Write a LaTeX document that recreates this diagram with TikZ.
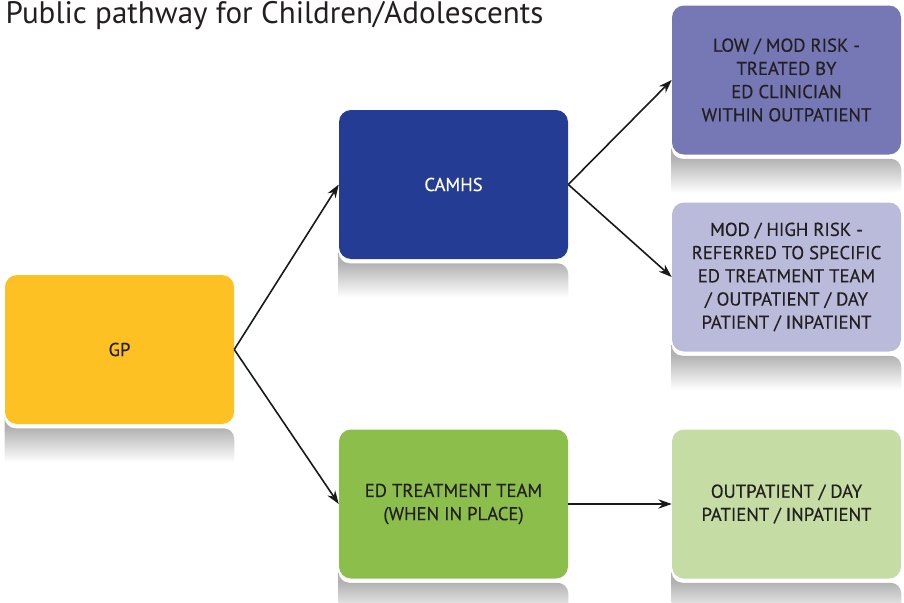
\documentclass[tikz,border=0pt]{standalone}
\usepackage{fontspec}
\setmainfont{PT Sans}
\newfontfamily\boxfont[FakeBold=0.35]{PT Sans}
\usetikzlibrary{arrows.meta,calc}
\definecolor{inkgray}{HTML}{231F20}
\definecolor{gpyellow}{HTML}{FDC123}
\definecolor{camhsblue}{HTML}{253C94}
\definecolor{lowpurple}{HTML}{7677B5}
\definecolor{highlilac}{HTML}{BABADB}
\definecolor{edgreen}{HTML}{8CBE4B}
\definecolor{outgreen}{HTML}{C5DCA4}
\tikzset{
  pathbox/.style={rounded corners=9pt, minimum width=171.75pt, minimum height=111.75pt,
    align=center, text=inkgray, font=\boxfont\fontsize{14}{17.4}\selectfont, inner sep=2pt},
  pathline/.style={draw=black!90, line width=1.2pt, -{Stealth[length=10pt,width=7pt]}},
  mirror/.style={top color=black!30, bottom color=white, draw=none}
}
\begin{document}
\begin{tikzpicture}[x=0.75pt,y=-0.75pt]
  \useasboundingbox (0,0) rectangle (904,603);
  \node[anchor=west, text=inkgray, font=\fontsize{23.3}{27}\selectfont] (title) at (1,16) {Public pathway for Children/Adolescents};
  % boxes
  \node[pathbox, fill=gpyellow] (gp) at (119.5,349.5) {GP};
  \node[pathbox, fill=camhsblue, text=white] (camhs) at (453.5,184.5) {CAMHS};
  \node[pathbox, fill=lowpurple] (low) at (786.5,80) {LOW / MOD RISK -\\TREATED BY\\ED CLINICIAN\\WITHIN OUTPATIENT};
  \node[pathbox, fill=highlilac] (high) at (786.5,277) {MOD / HIGH RISK -\\REFERRED TO SPECIFIC\\ED TREATMENT TEAM\\/ OUTPATIENT / DAY\\PATIENT / INPATIENT};
  \node[pathbox, fill=edgreen] (edteam) at (453.5,504) {ED TREATMENT TEAM\\(WHEN IN PLACE)};
  \node[pathbox, fill=outgreen] (outpt) at (786.5,504) {OUTPATIENT / DAY\\PATIENT / INPATIENT};
  % reflections
  \foreach \n in {gp,camhs,low,high,edteam,outpt} {
    \shade[mirror] ($(\n.south west)+(0,38)$) -- ($(\n.south west)+(0,4)$) [rounded corners=8pt] -- ($(\n.south west)+(0,4)$) -- ($(\n.south east)+(0,4)$) [sharp corners] -- ($(\n.south east)+(0,38)$) -- cycle;
  }
  % connectors
  \draw[pathline] (gp.east) -- (camhs.west);
  \draw[pathline] (gp.east) -- (edteam.west);
  \draw[pathline] (camhs.east) -- (low.west);
  \draw[pathline] (camhs.east) -- (high.west);
  \draw[pathline] (edteam.east) -- (outpt.west);
\end{tikzpicture}
\end{document}
